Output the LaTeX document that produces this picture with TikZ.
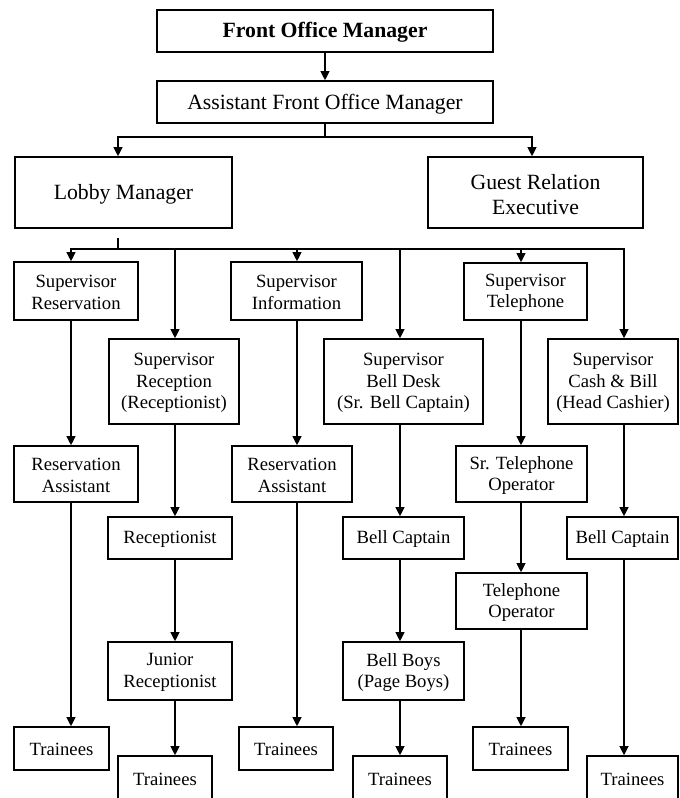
\documentclass[tikz,border=0pt]{standalone}
\usepackage{fontspec}
\setmainfont{Liberation Serif}
\usetikzlibrary{arrows.meta,fit}
\begin{document}
\begin{tikzpicture}[x=0.75pt,y=-0.75pt,
  box/.style={draw, line width=0.9pt, inner sep=0pt},
  lbl/.style={align=center, inner sep=0pt, yshift=-1pt, font=\fontsize{14}{16.2}\selectfont},
  biglbl/.style={align=center, inner sep=0pt, yshift=-1.5pt, font=\fontsize{16.3}{19.3}\selectfont},
  boldlbl/.style={align=center, inner sep=0pt, yshift=-1pt, font=\bfseries\fontsize{16.3}{19.3}\selectfont},
  line/.style={line width=2pt},
  conn/.style={line, -{Triangle[length=7pt,width=6.5pt]}}]
\useasboundingbox (0,0) rectangle (680,798);
\fill[white] (0,0) rectangle (680,798);
\clip (0,0) rectangle (680,798);

% top levels
\node[box, fit={(157,10) (493,52)}, label={[boldlbl]center:Front Office Manager}] (fom) {};
\node[box, fit={(157,81) (493,123)}, label={[biglbl]center:Assistant Front Office Manager}] (afom) {};
\node[box, fit={(15,157) (232,228)}, label={[biglbl]center:Lobby Manager}] (lobby) {};
\node[box, fit={(428,157) (643,228)}, label={[biglbl]center:{Guest Relation\\Executive}}] (gre) {};

% supervisors
\node[box, fit={(14,262) (138,320)}, label={[lbl]center:{Supervisor\\Reservation}}] (supres) {};
\node[box, fit={(109,339) (239,424)}, label={[lbl]center:{Supervisor\\Reception\\(Receptionist)}}] (suprec) {};
\node[box, fit={(231,262) (362,320)}, label={[lbl]center:{Supervisor\\Information}}] (supinfo) {};
\node[box, fit={(324,339) (483,424)}, label={[lbl]center:{Supervisor\\Bell Desk\\(Sr. Bell Captain)}}] (supbell) {};
\node[box, fit={(464,263) (587,320)}, label={[lbl]center:{Supervisor\\Telephone}}] (suptel) {};
\node[box, fit={(548,339) (678,424)}, label={[lbl]center:{Supervisor\\Cash \& Bill\\(Head Cashier)}}] (supcash) {};

% second row
\node[box, fit={(14,446) (138,502)}, label={[lbl]center:{Reservation\\Assistant}}] (resa1) {};
\node[box, fit={(108,517) (232,559)}, label={[lbl]center:Receptionist}] (recep) {};
\node[box, fit={(232,446) (352,502)}, label={[lbl]center:{Reservation\\Assistant}}] (resa2) {};
\node[box, fit={(343,517) (464,559)}, label={[lbl]center:Bell Captain}] (bellcap1) {};
\node[box, fit={(456,446) (587,502)}, label={[lbl]center:{Sr. Telephone\\Operator}}] (srtel) {};
\node[box, fit={(567,517) (678,559)}, label={[lbl]center:Bell Captain}] (bellcap2) {};

% third row
\node[box, fit={(108,642) (232,700)}, label={[lbl]center:{Junior\\Receptionist}}] (jrrec) {};
\node[box, fit={(343,642) (464,700)}, label={[lbl]center:{Bell Boys\\(Page Boys)}}] (bellboys) {};
\node[box, fit={(456,573) (587,629)}, label={[lbl]center:{Telephone\\Operator}}] (telop) {};

% trainees
\node[box, fit={(14,727) (109,770)}, label={[lbl]center:Trainees}] (t1) {};
\node[box, fit={(118,756) (212,800)}, label={[lbl]center:Trainees}] (t2) {};
\node[box, fit={(239,727) (333,770)}, label={[lbl]center:Trainees}] (t3) {};
\node[box, fit={(353,756) (447,800)}, label={[lbl]center:Trainees}] (t4) {};
\node[box, fit={(473,727) (568,770)}, label={[lbl]center:Trainees}] (t5) {};
\node[box, fit={(587,756) (678,800)}, label={[lbl]center:Trainees}] (t6) {};

% column coordinates
\coordinate (lc) at (118,137);
\coordinate (gc) at (532,137);
\coordinate (c1) at (71,249);
\coordinate (c2) at (175,249);
\coordinate (c3) at (297,249);
\coordinate (c4) at (400,249);
\coordinate (c5) at (521,249);
\coordinate (c6) at (624,249);

% top connectors
\draw[conn] (fom) -- (afom);
\draw[conn] (afom.south) |- (lc) -- (lobby.north -| lc);
\draw[conn] (afom.south) |- (gc) -- (gre.north -| gc);
\draw[line] ([yshift=-6.75pt]lobby.south -| lc) -- (lc |- c1);
\draw[line, line cap=rect] (c1) -- (c6);

% column 1
\draw[conn] (c1) -- (supres.north -| c1);
\draw[conn] (supres.south -| c1) -- (resa1.north -| c1);
\draw[conn] (resa1.south -| c1) -- (t1.north -| c1);
% column 2
\draw[conn] (c2) -- (suprec.north -| c2);
\draw[conn] (suprec.south -| c2) -- (recep.north -| c2);
\draw[conn] (recep.south -| c2) -- (jrrec.north -| c2);
\draw[conn] (jrrec.south -| c2) -- (t2.north -| c2);
% column 3
\draw[conn] (c3) -- (supinfo.north -| c3);
\draw[conn] (supinfo.south -| c3) -- (resa2.north -| c3);
\draw[conn] (resa2.south -| c3) -- (t3.north -| c3);
% column 4
\draw[conn] (c4) -- (supbell.north -| c4);
\draw[conn] (supbell.south -| c4) -- (bellcap1.north -| c4);
\draw[conn] (bellcap1.south -| c4) -- (bellboys.north -| c4);
\draw[conn] (bellboys.south -| c4) -- (t4.north -| c4);
% column 5
\draw[conn] (c5) -- (suptel.north -| c5);
\draw[conn] (suptel.south -| c5) -- (srtel.north -| c5);
\draw[conn] (srtel.south -| c5) -- (telop.north -| c5);
\draw[conn] (telop.south -| c5) -- (t5.north -| c5);
% column 6
\draw[conn] (c6) -- (supcash.north -| c6);
\draw[conn] (supcash.south -| c6) -- (bellcap2.north -| c6);
\draw[conn] (bellcap2.south -| c6) -- (t6.north -| c6);
\end{tikzpicture}
\end{document}
